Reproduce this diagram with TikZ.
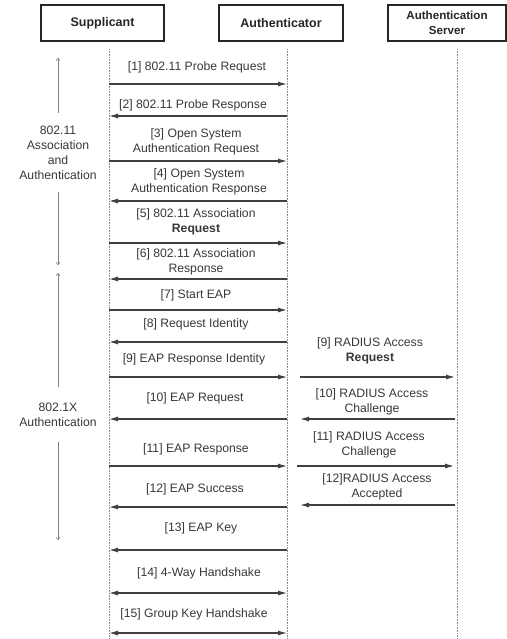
\documentclass[tikz,border=0pt]{standalone}
\usepackage{fontspec}
\setmainfont{Liberation Sans}
\usetikzlibrary{arrows.meta}
\definecolor{ink}{HTML}{383838}
\definecolor{linec}{HTML}{404040}
\definecolor{life}{HTML}{8A8A8A}
\tikzset{
  hdr/.style={draw=black!85, line width=1.5pt, minimum height=36pt, inner sep=0pt,
    font=\bfseries\fontsize{12.5}{15}\selectfont, text=black!85, align=center},
  lbl/.style={font=\fontsize{12.2}{15}\selectfont, text=ink, align=center, inner sep=0pt},
  msg/.style={draw=linec, line width=1.1pt, -{Latex[length=9pt,width=5pt]}},
  msgboth/.style={draw=linec, line width=1.1pt, {Latex[length=9pt,width=5pt]}-{Latex[length=9pt,width=5pt]}},
  lifeline/.style={draw=life, densely dotted, line width=0.6pt},
  phase/.style={draw=gray, line width=0.6pt, -{To[length=3pt,width=4.5pt]}}
}
\begin{document}
\begin{tikzpicture}[x=1pt,y=-1pt]
\useasboundingbox (0,0) rectangle (506,639);
% headers
\node[hdr, minimum width=123pt] (sup) at (102.5,23) {Supplicant};
\node[hdr, minimum width=124pt] (aut) at (281,23) {Authenticator};
\node[hdr, minimum width=118pt, font=\bfseries\fontsize{11.6}{15}\selectfont] (srv) at (447,23) {Authentication\\Server};
% lifelines
\coordinate (supE) at (109,639);
\coordinate (autE) at (287,639);
\coordinate (srvE) at (457,639);
\coordinate (supS) at (109,49);
\coordinate (autS) at (287,49);
\coordinate (srvS) at (457,49);
\draw[lifeline] (supS) -- (supE);
\draw[lifeline] (autS) -- (autE);
\draw[lifeline] (srvS) -- (srvE);
% message endpoints
\foreach \i/\y in {1/84,2/116,3/161,4/201,5/243,6/279,7/310,8/342,9/377,10/419,11/466,12/507,13/550,14/593,15/633}{
  \coordinate (s\i) at (109,\y);
  \coordinate (a\i) at (287,\y);
}
\coordinate (r9a) at (300,377);  \coordinate (r9b) at (455,377);
\coordinate (r10a) at (300,419); \coordinate (r10b) at (455,419);
\coordinate (r11a) at (297,466); \coordinate (r11b) at (454,466);
\coordinate (r12a) at (300,505); \coordinate (r12b) at (455,505);
% labels left
\node[lbl] (l1) at (197,67) {[1] 802.11 Probe Request};
\node[lbl] (l2) at (193,105) {[2] 802.11 Probe Response};
\node[lbl] (l3) at (196,141.5) {[3] Open System\\Authentication Request};
\node[lbl] (l4) at (199,182) {[4] Open System\\Authentication Response};
\node[lbl] (l5) at (196,221.5) {[5] 802.11 Association\\\textbf{Request}};
\node[lbl] (l6) at (196,262) {[6] 802.11 Association\\Response};
\node[lbl] (l7) at (196,295) {[7] Start EAP};
\node[lbl] (l8) at (196,324) {[8] Request Identity};
\node[lbl] (l9) at (194,359) {[9] EAP Response Identity};
\node[lbl] (l10) at (195,398) {[10] EAP Request};
\node[lbl] (l11) at (196,449) {[11] EAP Response};
\node[lbl] (l12) at (195,489) {[12] EAP Success};
\node[lbl] (l13) at (201,528) {[13] EAP Key};
\node[lbl] (l14) at (199,573) {[14] 4-Way Handshake};
\node[lbl] (l15) at (194,614) {[15] Group Key Handshake};
% labels right
\node[lbl] (rl9) at (370,350.5) {[9] RADIUS Access\\\textbf{Request}};
\node[lbl] (rl10) at (372,401.5) {[10] RADIUS Access\\Challenge};
\node[lbl] (rl11) at (369,444.5) {[11] RADIUS Access\\Challenge};
\node[lbl] (rl12) at (377,487) {[12]RADIUS Access\\Accepted};
% arrows left
\draw[msg] (s1) -- (a1);
\draw[msg] (a2) -- (s2);
\draw[msg] (s3) -- (a3);
\draw[msg] (a4) -- (s4);
\draw[msg] (s5) -- (a5);
\draw[msg] (a6) -- (s6);
\draw[msg] (s7) -- (a7);
\draw[msg] (a8) -- (s8);
\draw[msg] (s9) -- (a9);
\draw[msg] (a10) -- (s10);
\draw[msg] (s11) -- (a11);
\draw[msg] (a12) -- (s12);
\draw[msg] (a13) -- (s13);
\draw[msgboth] (s14) -- (a14);
\draw[msgboth] (s15) -- (a15);
% arrows right
\draw[msg] (r9a) -- (r9b);
\draw[msg] (r10b) -- (r10a);
\draw[msg] (r11a) -- (r11b);
\draw[msg] (r12b) -- (r12a);
% phases
\node[lbl] (ph1) at (58,152.5) {802.11\\Association\\and\\Authentication};
\coordinate (ph1t) at (58,58);  \coordinate (ph1tb) at (58,113);
\coordinate (ph1b) at (58,265); \coordinate (ph1bt) at (58,192);
\draw[phase] (ph1tb) -- (ph1t);
\draw[phase] (ph1bt) -- (ph1b);
\node[lbl] (ph2) at (58,414.5) {802.1X\\Authentication};
\coordinate (ph2t) at (58,273); \coordinate (ph2tb) at (58,387);
\coordinate (ph2b) at (58,540); \coordinate (ph2bt) at (58,442);
\draw[phase] (ph2tb) -- (ph2t);
\draw[phase] (ph2bt) -- (ph2b);
\end{tikzpicture}
\end{document}
